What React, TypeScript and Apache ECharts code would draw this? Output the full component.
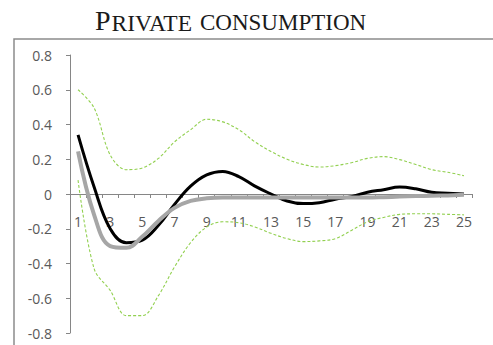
import React, { useEffect, useRef } from "react";
import * as echarts from "echarts";

// Quarters after the shock
const periods: string[] = Array.from({ length: 25 }, (_, i) => String(i + 1));

// Point estimate of the response
const responseMedian: number[] = [
  0.34, 0.04, -0.2, -0.28, -0.265, -0.18, -0.06, 0.045, 0.11, 0.13, 0.1, 0.045, 0.0,
  -0.04, -0.055, -0.05, -0.03, -0.015, 0.01, 0.025, 0.04, 0.03, 0.01, 0.005, 0.0,
];

// Alternative specification
const responseAlt: number[] = [
  0.245, -0.12, -0.3, -0.31, -0.245, -0.155, -0.08, -0.04, -0.025, -0.02, -0.02, -0.02,
  -0.02, -0.02, -0.02, -0.02, -0.02, -0.02, -0.02, -0.018, -0.015, -0.012, -0.01, -0.008,
  -0.005,
];

// Confidence band
const bandUpper: number[] = [
  0.6, 0.495, 0.225, 0.14, 0.15, 0.205, 0.3, 0.37, 0.43, 0.415, 0.37, 0.3, 0.245, 0.2,
  0.17, 0.155, 0.163, 0.18, 0.205, 0.215, 0.198, 0.17, 0.14, 0.125, 0.105,
];
const bandLower: number[] = [
  0.08, -0.43, -0.555, -0.7, -0.7, -0.585, -0.42, -0.28, -0.19, -0.16, -0.165, -0.19,
  -0.226, -0.257, -0.274, -0.27, -0.257, -0.21, -0.16, -0.135, -0.117, -0.114, -0.114,
  -0.117, -0.12,
];

const yMin = -0.8;
const yMax = 0.8;

const axisGray = "#868686";
const labelGray = "#595959";
const bandGreen = "#92D050";

const gridTop = 55;
const gridHeight = 278;

export default function App() {
  const ref = useRef<HTMLDivElement>(null);

  useEffect(() => {
    if (!ref.current) return;
    const chart = echarts.init(ref.current, undefined, { renderer: "svg" });

    // the category axis crosses the value axis at zero
    const zeroOffset = -gridHeight * ((0 - yMin) / (yMax - yMin));

    const bandStyle = {
      color: bandGreen,
      width: 1.1,
      type: [3, 2] as number[],
    };

    chart.setOption({
      animation: false,
      backgroundColor: "#ffffff",
      graphic: [
        {
          type: "rect",
          shape: { x: 14, y: 39, width: 600, height: 400 },
          style: { fill: "none", stroke: "#8c8c8c", lineWidth: 1.5 },
          silent: true,
        },
        {
          type: "text",
          x: 95,
          y: 20,
          style: {
            text: "P",
            font: "28px 'Liberation Serif'",
            fill: "#1a1a1a",
            verticalAlign: "middle",
          },
        },
        {
          type: "text",
          x: 111.5,
          y: 22.5,
          style: {
            text: "RIVATE",
            font: "23.5px 'Liberation Serif'",
            fill: "#1a1a1a",
            verticalAlign: "middle",
          },
        },
        {
          type: "text",
          x: 200,
          y: 22.5,
          style: {
            text: "CONSUMPTION",
            font: "23px 'Liberation Serif'",
            fill: "#1a1a1a",
            verticalAlign: "middle",
          },
        },
      ],
      grid: {
        left: 70,
        top: gridTop,
        width: 402,
        height: gridHeight,
        containLabel: false,
        outerBoundsMode: "none",
      },
      xAxis: {
        type: "category",
        data: periods,
        boundaryGap: true,
        position: "bottom",
        offset: zeroOffset,
        axisLine: { onZero: false, lineStyle: { color: axisGray, width: 1 } },
        axisTick: { show: true, interval: 0, length: 4, lineStyle: { color: axisGray } },
        axisLabel: {
          interval: 1,
          margin: 20,
          color: labelGray,
          fontSize: 14,
          fontFamily: "Open Sans",
        },
        splitLine: { show: false },
      },
      yAxis: {
        type: "value",
        min: yMin,
        max: yMax,
        interval: 0.2,
        axisLine: { show: true, onZero: false, lineStyle: { color: axisGray, width: 1 } },
        axisTick: { show: true, length: 4, lineStyle: { color: axisGray } },
        axisLabel: {
          margin: 18,
          color: labelGray,
          fontSize: 14,
          fontFamily: "Open Sans",
          formatter: (v: number) => String(Number(v.toFixed(1))),
        },
        splitLine: { show: false },
      },
      series: [
        {
          name: "Upper",
          type: "line",
          data: bandUpper,
          smooth: 0.35,
          symbol: "none",
          lineStyle: bandStyle,
          z: 2,
        },
        {
          name: "Lower",
          type: "line",
          data: bandLower,
          smooth: 0.35,
          symbol: "none",
          lineStyle: bandStyle,
          z: 2,
        },
        {
          name: "Median",
          type: "line",
          data: responseMedian,
          smooth: 0.4,
          symbol: "none",
          lineStyle: { color: "#000000", width: 3 },
          z: 3,
        },
        {
          name: "Alternative",
          type: "line",
          data: responseAlt,
          smooth: 0.4,
          symbol: "none",
          lineStyle: { color: "#a6a6a6", width: 4 },
          z: 4,
        },
      ],
    });

    return () => chart.dispose();
  }, []);

  return (
    <div
      ref={ref}
      style={{ position: "fixed", left: 0, top: 0, width: 493, height: 345 }}
    />
  );
}
